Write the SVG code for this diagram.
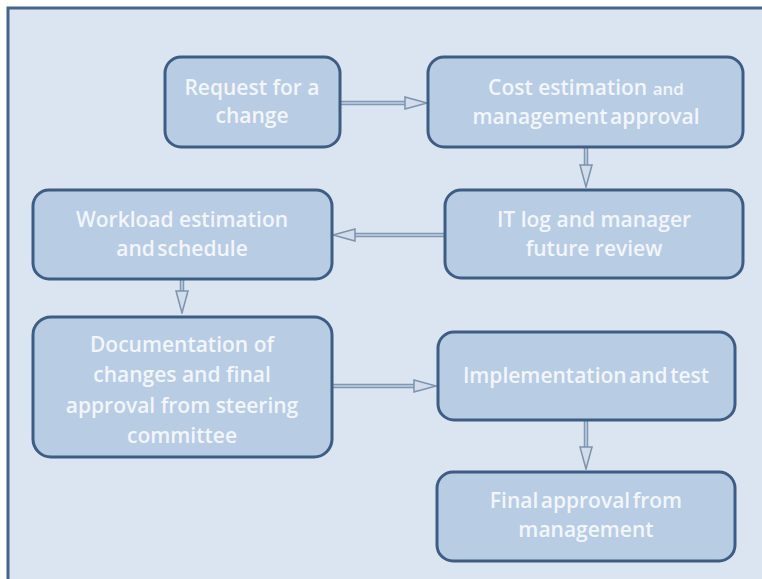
<svg xmlns="http://www.w3.org/2000/svg" width="762" height="579" viewBox="0 0 762 579">
  <style>
    .frame { fill: #dbe5f1; stroke: #46648a; stroke-width: 3; }
    .box { fill: #b8cce4; stroke: #3f5d82; stroke-width: 3; }
    .lbl { font-family: "Open Sans", "Liberation Sans", sans-serif; font-size: 21px; font-weight: 600; fill: #f2f6fb; text-anchor: middle; }
    .sm { font-size: 17px; }
    .shaft-o { stroke: #8197b4; stroke-width: 4.5; fill: none; }
    .shaft-i { stroke: #c3d0e2; stroke-width: 1.5; fill: none; }
  </style>
  <defs>
    <marker id="head" viewBox="0 0 24 14" refX="23" refY="7" markerWidth="24" markerHeight="14" markerUnits="userSpaceOnUse" orient="auto">
      <path d="M1,1 L23,7 L1,13 Z" fill="#d3dcea" stroke="#7d92ae" stroke-width="1.5"/>
    </marker>
  </defs>
  <rect x="0" y="0" width="762" height="579" fill="#ffffff"/>
  <rect class="frame" x="8" y="8" width="780" height="600"/>

  <g id="connectors">
    <line class="shaft-o" x1="340" y1="103" x2="410" y2="103"/>
    <line class="shaft-i" x1="340" y1="103" x2="427" y2="103" marker-end="url(#head)"/>
    <line class="shaft-o" x1="586" y1="147" x2="586" y2="170"/>
    <line class="shaft-i" x1="586" y1="147" x2="586" y2="187" marker-end="url(#head)"/>
    <line class="shaft-o" x1="445" y1="235" x2="350" y2="235"/>
    <line class="shaft-i" x1="445" y1="235" x2="333" y2="235" marker-end="url(#head)"/>
    <line class="shaft-o" x1="182" y1="279" x2="182" y2="296"/>
    <line class="shaft-i" x1="182" y1="279" x2="182" y2="313" marker-end="url(#head)"/>
    <line class="shaft-o" x1="332" y1="386" x2="420" y2="386"/>
    <line class="shaft-i" x1="332" y1="386" x2="436" y2="386" marker-end="url(#head)"/>
    <line class="shaft-o" x1="586" y1="420" x2="586" y2="452"/>
    <line class="shaft-i" x1="586" y1="420" x2="586" y2="469" marker-end="url(#head)"/>
  </g>

  <g id="request">
    <rect class="box" x="165" y="57" width="175" height="90" rx="16"/>
    <text class="lbl" x="252" y="95" font-size="19">Request for a</text>
    <text class="lbl" x="252" y="123" font-size="19">change</text>
  </g>

  <g id="cost">
    <rect class="box" x="428" y="57" width="315" height="90" rx="16"/>
    <text class="lbl" x="586" y="95">Cost estimation <tspan class="sm">and</tspan></text>
    <text class="lbl" x="586" y="124" word-spacing="-3">management approval</text>
  </g>

  <g id="itlog">
    <rect class="box" x="445" y="190" width="298" height="88" rx="16"/>
    <text class="lbl" x="594" y="227">IT log and manager</text>
    <text class="lbl" x="594" y="256">future review</text>
  </g>

  <g id="workload">
    <rect class="box" x="33" y="190" width="299" height="89" rx="16"/>
    <text class="lbl" x="182" y="227">Workload estimation</text>
    <text class="lbl" x="182" y="256" word-spacing="-3">and schedule</text>
  </g>

  <g id="documentation">
    <rect class="box" x="33" y="317" width="299" height="140" rx="18"/>
    <text class="lbl" x="182" y="352">Documentation of</text>
    <text class="lbl" x="182" y="382">changes and final</text>
    <text class="lbl" x="182" y="413">approval from steering</text>
    <text class="lbl" x="182" y="443">committee</text>
  </g>

  <g id="implementation">
    <rect class="box" x="438" y="332" width="297" height="88" rx="16"/>
    <text class="lbl" x="586" y="383" word-spacing="-3">Implementation and test</text>
  </g>

  <g id="final">
    <rect class="box" x="437" y="472" width="298" height="89" rx="16"/>
    <text class="lbl" x="586" y="508" word-spacing="-3">Final approval from</text>
    <text class="lbl" x="586" y="537">management</text>
  </g>
</svg>
